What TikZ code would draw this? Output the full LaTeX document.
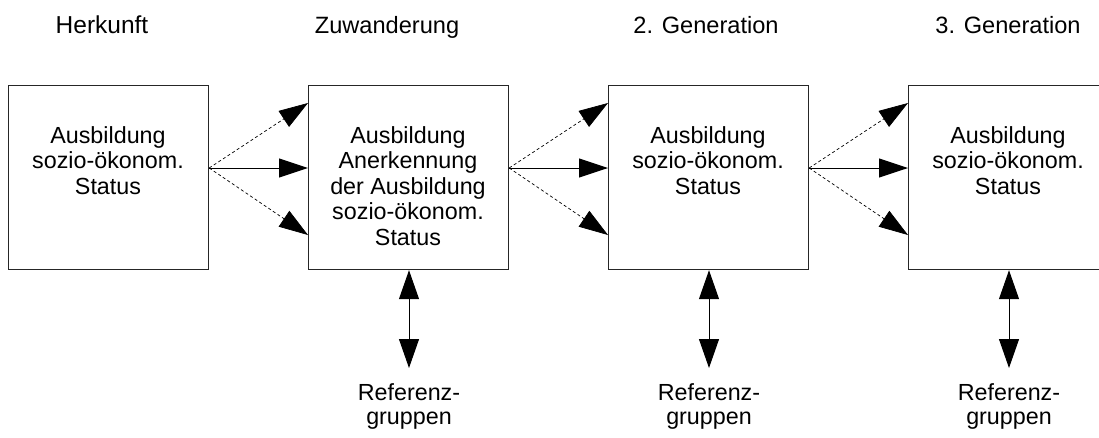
\documentclass[tikz,border=0pt]{standalone}
\usepackage{fontspec}
\setmainfont{Liberation Sans}
\usetikzlibrary{arrows.meta,calc}
\begin{document}
\begin{tikzpicture}[x=1pt,y=-1pt,
  box/.style={draw=black!85, line width=1.2pt, minimum width=200pt, minimum height=184pt, inner sep=0pt, anchor=north west},
  txt/.style={font=\fontsize{23.3}{25.5}\selectfont, align=center, inner sep=0pt, anchor=north},
  reftxt/.style={font=\fontsize{23.3}{24}\selectfont, align=center, inner sep=0pt, anchor=north},
  hd/.style={font=\fontsize{23.6}{25.5}\selectfont, inner sep=0pt, anchor=base},
  tip/.style={-{Triangle[length=29pt,width=19pt]}},
  dasharrow/.style={tip, line width=0.7pt, dash pattern=on 3pt off 2.5pt},
  solidarrow/.style={tip, line width=1pt},
  dbl/.style={{Triangle[length=29pt,width=20pt]}-{Triangle[length=29pt,width=20pt]}, line width=1pt}]
\fill[white] (0,0) rectangle (1099,437);
\useasboundingbox (0,0) rectangle (1099,437);

% headers
\node[hd, font=\fontsize{24.5}{25.5}\selectfont] (h1) at (102,33) {Herkunft};
\node[hd] (h2) at (387,33) {Zuwanderung};
\node[hd] (h3) at (706,33) {2. Generation};
\node[hd] (h4) at (1008,33) {3. Generation};

% boxes
\node[box] (b1) at (8,85) {};
\node[box] (b2) at (308,85) {};
\node[box] (b3) at (608,85) {};
\node[box] (b4) at (908,85) {};

% box texts
\node[txt] (t1) at (108,126) {Ausbildung\\sozio-ökonom.\\Status};
\node[txt] (t2) at (408,126) {Ausbildung\\Anerkennung\\der Ausbildung\\sozio-ökonom.\\Status};
\node[txt] (t3) at (708,126) {Ausbildung\\sozio-ökonom.\\Status};
\node[txt] (t4) at (1008,126) {Ausbildung\\sozio-ökonom.\\Status};

% connectors between boxes
\foreach \a/\b in {b1/b2, b2/b3, b3/b4} {
  \coordinate (\a-o) at ($(\a.north east)+(0,83)$);
  \coordinate (\b-u) at ($(\b.north west)+(0,18)$);
  \coordinate (\b-m) at ($(\b.north west)+(0,83)$);
  \coordinate (\b-l) at ($(\b.north west)+(0,150)$);
  \draw[dasharrow] (\a-o) -- (\b-u);
  \draw[solidarrow] (\a-o) -- (\b-m);
  \draw[dasharrow] (\a-o) -- (\b-l);
}

% reference groups
\foreach \b/\x in {b2/409, b3/709, b4/1009} {
  \coordinate (\b-r) at (\x,368);
  \draw[dbl] (\b.south -| \b-r) -- (\b-r);
  \node[reftxt] (\b-ref) at (\x,383) {Referenz-\\gruppen};
}
\end{tikzpicture}
\end{document}
